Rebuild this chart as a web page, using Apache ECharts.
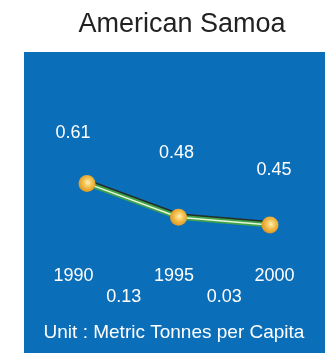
<!DOCTYPE html>
<html>
<head>
<meta charset="utf-8">
<script src="https://cdn.jsdelivr.net/npm/echarts@6/dist/echarts.min.js"></script>
<style>
  html, body { margin: 0; padding: 0; background: #ffffff; }
  #chart { width: 329px; height: 353px; }
</style>
</head>
<body>
<div id="chart"></div>
<script>
// Per-capita emissions, American Samoa
const chartTitle = 'American Samoa';
const unitText = 'Unit : Metric Tonnes per Capita';
const years = ['1990', '1995', '2000'];
const values = [0.61, 0.48, 0.45];

// Change between consecutive years, shown under the year labels
const changes = values.slice(1).map((v, i) => Math.abs(values[i] - v).toFixed(2));

// Where each value label sits relative to its point
const labelOffsets = [[-14, -50], [-2, -64], [4, -55]];

const FONT = '"Liberation Sans", Arial, sans-serif';
const PANEL = '#0a6eb9';

const chart = echarts.init(document.getElementById('chart'), null, { renderer: 'canvas' });

const markerColor = new echarts.graphic.RadialGradient(0.55, 0.45, 0.6, [
  { offset: 0, color: '#fff0b8' },
  { offset: 0.45, color: '#f4c04e' },
  { offset: 1, color: '#d9921c' }
]);

const option = {
  backgroundColor: '#ffffff',
  animation: false,
  graphic: [
    {
      type: 'rect', z: -10,
      shape: { x: 24, y: 52, width: 301, height: 301 },
      style: { fill: PANEL }
    },
    {
      type: 'text', z: 10,
      style: {
        x: 182, y: 25, text: chartTitle,
        fill: '#222222', font: '27px ' + FONT,
        textAlign: 'center', textVerticalAlign: 'middle'
      }
    },
    {
      type: 'text', z: 10,
      style: {
        x: 174, y: 333, text: unitText,
        fill: '#ffffff', font: '19px ' + FONT,
        textAlign: 'center', textVerticalAlign: 'middle'
      }
    }
  ],
  grid: [
    // plotting area for the line
    { left: 87, right: 59, top: 82, height: 260 },
    // wider area carrying the year and change labels
    { left: 73.5, right: 54.5, top: 60, height: 200 }
  ],
  xAxis: [
    {
      gridIndex: 0, type: 'category', data: years, boundaryGap: false,
      axisLine: { show: false }, axisTick: { show: false },
      axisLabel: { show: false }, splitLine: { show: false }
    },
    {
      gridIndex: 1, type: 'category', data: years, boundaryGap: false,
      axisLine: { show: false }, axisTick: { show: false }, splitLine: { show: false },
      axisLabel: { color: '#ffffff', fontSize: 18, fontFamily: FONT, margin: 7 }
    },
    {
      gridIndex: 1, type: 'category', data: changes, boundaryGap: true,
      position: 'bottom', offset: 21,
      axisLine: { show: false }, axisTick: { show: false }, splitLine: { show: false },
      axisLabel: { color: '#ffffff', fontSize: 18, fontFamily: FONT, margin: 7 }
    }
  ],
  yAxis: [
    { gridIndex: 0, type: 'value', min: 0, max: 1, show: false },
    { gridIndex: 1, type: 'value', min: 0, max: 1, show: false }
  ],
  series: [
    {
      // green body with a dark edge on its upper side
      type: 'line', xAxisIndex: 0, yAxisIndex: 0, z: 2,
      data: values, showSymbol: false, silent: true,
      lineStyle: {
        width: 5, color: '#3fa24a',
        shadowColor: '#23302a', shadowBlur: 0, shadowOffsetX: 0.5, shadowOffsetY: -1.5
      }
    },
    {
      // pale highlight running along the middle of the line
      type: 'line', xAxisIndex: 0, yAxisIndex: 0, z: 3,
      data: values, showSymbol: false, silent: true,
      lineStyle: { width: 1.5, color: '#e6f7dc' }
    },
    {
      // markers and value labels
      type: 'line', xAxisIndex: 0, yAxisIndex: 0, z: 4,
      data: values.map((v, i) => ({
        value: v,
        label: { offset: labelOffsets[i] }
      })),
      lineStyle: { opacity: 0 },
      symbol: 'circle', symbolSize: 17,
      itemStyle: { color: markerColor },
      label: {
        show: true, position: 'inside',
        color: '#ffffff', fontSize: 18, fontFamily: FONT,
        formatter: (p) => values[p.dataIndex].toFixed(2)
      }
    }
  ]
};

chart.setOption(option);
</script>
</body>
</html>
